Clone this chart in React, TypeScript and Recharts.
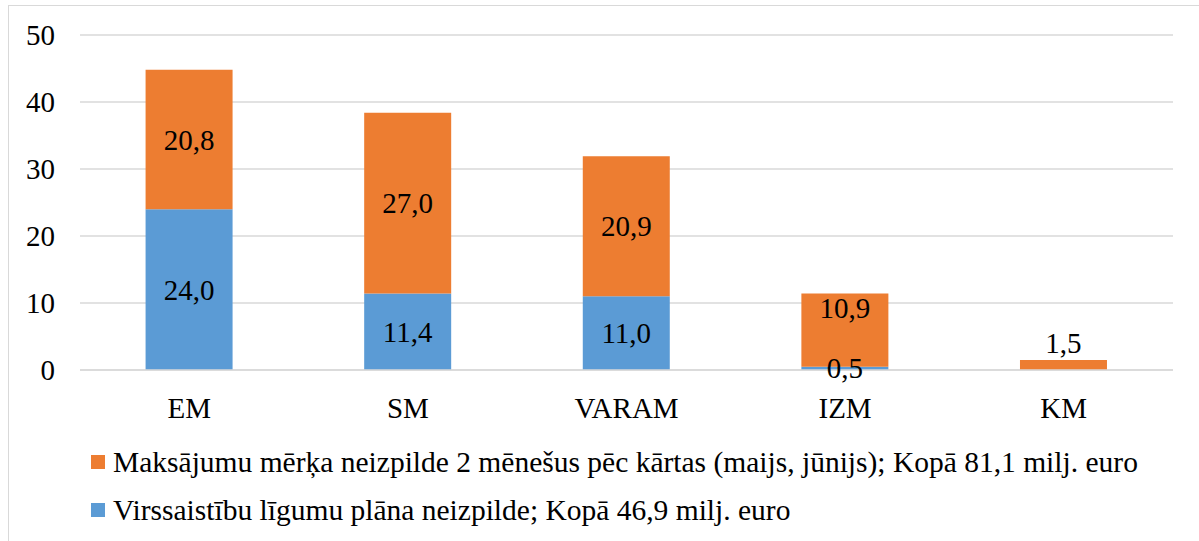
import { BarChart, Bar, XAxis, YAxis, CartesianGrid, Legend, LabelList } from "recharts";

const categories = ["EM", "SM", "VARAM", "IZM", "KM"];
const planNeizpilde = [24.0, 11.4, 11.0, 0.5, null];
const merkaNeizpilde = [20.8, 27.0, 20.9, 10.9, 1.5];
const yTicks = [0, 10, 20, 30, 40, 50];

const seriesNames = {
  plan: "Virssaistību līgumu plāna neizpilde; Kopā 46,9 milj. euro",
  merka: "Maksājumu mērķa neizpilde 2 mēnešus pēc kārtas (maijs, jūnijs); Kopā 81,1 milj. euro",
};

const ORANGE = "#ED7D31";
const BLUE = "#5B9BD5";
const FONT = "Liberation Serif";
const FS = 29;

const data = categories.map((c, i) => ({
  name: c,
  plan: planNeizpilde[i],
  merka: merkaNeizpilde[i],
}));

const fmt = (v: number) => v.toFixed(1).replace(".", ",");

function PlanLabel(props: any) {
  const { x, y, width, height, value } = props;
  if (value == null) return null;
  return (
    <text x={x + width / 2} y={y + height / 2} textAnchor="middle" dominantBaseline="central"
      fontFamily={FONT} fontSize={FS} fill="#000">
      {fmt(value)}
    </text>
  );
}

function MerkaLabel(props: any) {
  const { x, y, width, height, value, index } = props;
  if (value == null) return null;
  let cy = y + height / 2;
  const below = planNeizpilde[index];
  if (height < 30) cy = y - 17;
  else if (below != null && below < 1) cy = y + 14;
  return (
    <text x={x + width / 2} y={cy} textAnchor="middle" dominantBaseline="central"
      fontFamily={FONT} fontSize={FS} fill="#000">
      {fmt(value)}
    </text>
  );
}

function LegendBox() {
  const rows = [
    { color: ORANGE, label: seriesNames.merka },
    { color: BLUE, label: seriesNames.plan },
  ];
  return (
    <div style={{ paddingLeft: 91, fontFamily: FONT, fontSize: 29.5, color: "#000" }}>
      {rows.map((r) => (
        <div key={r.label} style={{ height: 48, display: "flex", alignItems: "center" }}>
          <span style={{ width: 14, height: 14, background: r.color, display: "inline-block", marginRight: 8, flexShrink: 0 }} />
          <span style={{ whiteSpace: "nowrap" }}>{r.label}</span>
        </div>
      ))}
    </div>
  );
}

export default function App() {
  return (
    <div style={{ position: "absolute", left: 0, top: 0, width: 1199, height: 541, overflow: "hidden", background: "#fff", fontFamily: FONT }}>
      <div style={{ position: "absolute", left: 8, top: 5, width: 1300, height: 700, border: "1px solid #D9D9D9" }} />
      <div style={{ position: "absolute", left: 0, top: 0 }}>
        <BarChart width={1199} height={541} data={data} margin={{ top: 35, right: 26, bottom: 7, left: 0 }} barCategoryGap="30%">
          <CartesianGrid vertical={false} stroke="#D9D9D9" strokeWidth={1.5} />
          <XAxis dataKey="name" height={68} tickLine={false} axisLine={{ stroke: "#D9D9D9", strokeWidth: 1.5 }}
            tick={{ fill: "#000", fontSize: FS, fontFamily: FONT }} tickSize={0} tickMargin={27} />
          <YAxis domain={[0, 50]} ticks={yTicks} width={80} tickLine={false} axisLine={false} tickSize={0} tickMargin={25}
            tick={{ fill: "#000", fontSize: FS, fontFamily: FONT }} />
          <Legend verticalAlign="bottom" align="left" content={() => <LegendBox />} wrapperStyle={{ left: 0, width: 1199 }} />
          <Bar dataKey="plan" stackId="a" fill={BLUE} isAnimationActive={false} name={seriesNames.plan}>
            <LabelList dataKey="plan" content={PlanLabel} />
          </Bar>
          <Bar dataKey="merka" stackId="a" fill={ORANGE} isAnimationActive={false} name={seriesNames.merka}>
            <LabelList dataKey="merka" content={MerkaLabel} />
          </Bar>
        </BarChart>
      </div>
    </div>
  );
}
